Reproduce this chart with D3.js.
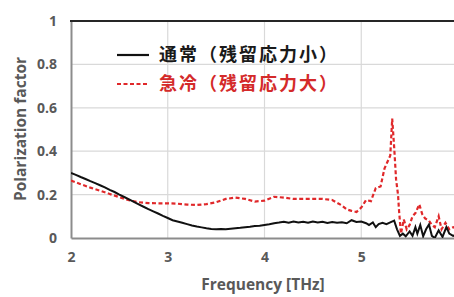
<!DOCTYPE html>
<html><head><meta charset="utf-8">
<script src="https://cdn.jsdelivr.net/npm/d3@7"></script>
<style>body{margin:0;background:#fff}svg{display:block}</style>
</head><body>
<script>
const xTicks = [2, 3, 4, 5, 6];
const yTicks = [0, 0.2, 0.4, 0.6, 0.8, 1];
const yTickLabels = ["0", "0.2", "0.4", "0.6", "0.8", "1"];
const seriesNames = ["通常（残留応力小）", "急冷（残留応力大）"];
const xLabel = "Frequency [THz]";
const yLabel = "Polarization factor";

const normalFreq = [2.00,2.05,2.10,2.15,2.20,2.25,2.30,2.35,2.40,2.45,2.50,2.55,2.60,2.65,2.70,2.75,2.80,2.85,2.90,2.95,3.00,3.05,3.10,3.15,3.20,3.25,3.30,3.35,3.40,3.45,3.50,3.55,3.60,3.65,3.70,3.75,3.80,3.85,3.90,3.95,4.00,4.05,4.10,4.15,4.20,4.25,4.30,4.35,4.40,4.45,4.50,4.55,4.60,4.65,4.70,4.75,4.80,4.85,4.90,4.95,5.00,5.05,5.08,5.12,5.15,5.18,5.22,5.26,5.30,5.34,5.37,5.40,5.43,5.46,5.50,5.53,5.56,5.58,5.61,5.64,5.67,5.70,5.73,5.76,5.80,5.84,5.88,5.91,5.95,6.00];
const normalVal = [0.300,0.291,0.281,0.272,0.262,0.253,0.243,0.233,0.222,0.212,0.200,0.189,0.178,0.166,0.155,0.144,0.133,0.123,0.113,0.102,0.092,0.082,0.076,0.070,0.064,0.058,0.053,0.049,0.045,0.042,0.040,0.041,0.040,0.043,0.045,0.047,0.050,0.052,0.055,0.057,0.060,0.063,0.068,0.071,0.075,0.070,0.076,0.071,0.075,0.070,0.076,0.071,0.075,0.069,0.074,0.070,0.073,0.068,0.082,0.074,0.076,0.068,0.060,0.072,0.050,0.064,0.070,0.064,0.072,0.080,0.040,0.010,0.020,0.008,0.030,0.010,0.050,0.020,0.060,0.008,0.040,0.062,0.010,0.000,0.035,0.005,0.050,0.020,0.010,0.015];

const quenchFreq = [2.00,2.10,2.20,2.30,2.40,2.50,2.60,2.70,2.80,2.90,3.00,3.10,3.20,3.30,3.40,3.50,3.60,3.70,3.80,3.90,4.00,4.10,4.20,4.30,4.40,4.50,4.60,4.70,4.80,4.85,4.90,4.95,5.00,5.05,5.10,5.15,5.20,5.24,5.27,5.30,5.32,5.34,5.36,5.38,5.39,5.41,5.44,5.47,5.50,5.53,5.56,5.60,5.63,5.66,5.70,5.73,5.76,5.80,5.83,5.87,5.91,5.95,6.00];
const quenchVal = [0.265,0.248,0.232,0.218,0.203,0.188,0.174,0.165,0.161,0.160,0.160,0.158,0.154,0.152,0.156,0.165,0.180,0.186,0.180,0.168,0.172,0.190,0.186,0.180,0.180,0.180,0.180,0.175,0.150,0.132,0.125,0.120,0.140,0.175,0.170,0.230,0.238,0.320,0.350,0.380,0.550,0.420,0.270,0.200,0.130,0.020,0.085,0.040,0.060,0.100,0.115,0.155,0.110,0.090,0.080,0.060,0.050,0.100,0.040,0.070,0.040,0.050,0.040];

const W = 454, H = 297;
const svg = d3.select("body").append("svg").attr("width", W).attr("height", H);
const x = d3.scaleLinear().domain([2, 6]).range([71, 458]);
const y = d3.scaleLinear().domain([0, 1]).range([238, 21]);
const gray = "#595959";

// gridlines
svg.append("g").selectAll("line").data([0.2,0.4,0.6,0.8]).join("line")
  .attr("x1", x(2)).attr("x2", W).attr("y1", d => y(d)).attr("y2", d => y(d))
  .attr("stroke", "#d9d9d9").attr("stroke-width", 1.2);
svg.append("g").selectAll("line").data([3,4,5]).join("line")
  .attr("x1", d => x(d)).attr("x2", d => x(d)).attr("y1", y(1)).attr("y2", y(0))
  .attr("stroke", "#d9d9d9").attr("stroke-width", 1.2);

// axes
const xAxis = svg.append("g").attr("transform", `translate(0,${y(0)})`)
  .call(d3.axisBottom(x).tickValues(xTicks).tickSize(0).tickPadding(14).tickFormat(d3.format("d")));
xAxis.select(".domain").attr("stroke", "#8c8c8c").attr("stroke-width", 2.2);
xAxis.selectAll("text").attr("fill", gray).attr("font-family", "'Open Sans', sans-serif")
  .attr("font-size", 14).attr("font-weight", "bold");

const yAxis = svg.append("g").attr("transform", `translate(${x(2)},0)`)
  .call(d3.axisLeft(y).tickValues(yTicks).tickSize(0).tickPadding(14).tickFormat((d, i) => yTickLabels[i]));
yAxis.select(".domain").attr("stroke", "#8c8c8c").attr("stroke-width", 2);
yAxis.selectAll("text").attr("fill", gray).attr("font-family", "'Open Sans', sans-serif")
  .attr("font-size", 14).attr("font-weight", "bold");

// top border
svg.append("line").attr("x1", x(2) - 1).attr("x2", W).attr("y1", y(1)).attr("y2", y(1))
  .attr("stroke", "#262626").attr("stroke-width", 2);

// series
const line = d3.line().x(d => x(d[0])).y(d => y(d[1]));
const clip = svg.append("clipPath").attr("id", "c").append("rect")
  .attr("x", x(2)).attr("y", y(1)).attr("width", W - x(2)).attr("height", y(0) - y(1));
svg.append("path").datum(quenchFreq.map((f, i) => [f, quenchVal[i]]))
  .attr("d", line).attr("fill", "none").attr("stroke", "#e0282a").attr("stroke-width", 2.2)
  .attr("stroke-dasharray", "4,2.5").attr("clip-path", "url(#c)");
svg.append("path").datum(normalFreq.map((f, i) => [f, normalVal[i]]))
  .attr("d", line).attr("fill", "none").attr("stroke", "#111").attr("stroke-width", 2)
  .attr("clip-path", "url(#c)");

// legend
const leg = [{name: seriesNames[0], color: "#111", dash: null, tcolor: "#1a1a1a", y: 55},
             {name: seriesNames[1], color: "#e0282a", dash: "4,2.5", tcolor: "#d42a2a", y: 84}];
leg.forEach(l => {
  svg.append("line").attr("x1", 117).attr("x2", 149).attr("y1", l.y).attr("y2", l.y)
    .attr("stroke", l.color).attr("stroke-width", 2.2).attr("stroke-dasharray", l.dash);
  svg.append("text").attr("x", 159).attr("y", l.y).attr("dy", "0.36em")
    .attr("fill", l.tcolor).attr("font-family", "'Noto Sans CJK JP', sans-serif")
    .attr("font-size", 18).attr("font-weight", "bold").attr("letter-spacing", 2)
    .text(l.name);
});

// axis labels
svg.append("text").attr("x", 263).attr("y", 285).attr("dy", "0.35em").attr("text-anchor", "middle")
  .attr("fill", gray).attr("font-family", "'Open Sans', sans-serif").attr("font-size", 15.5)
  .attr("font-weight", "bold").text(xLabel);
svg.append("text").attr("transform", "translate(21,129) rotate(-90)").attr("dy", "0.35em")
  .attr("text-anchor", "middle").attr("fill", gray).attr("font-family", "'Open Sans', sans-serif")
  .attr("font-size", 15.5).attr("font-weight", "bold").text(yLabel);
</script>
</body></html>
